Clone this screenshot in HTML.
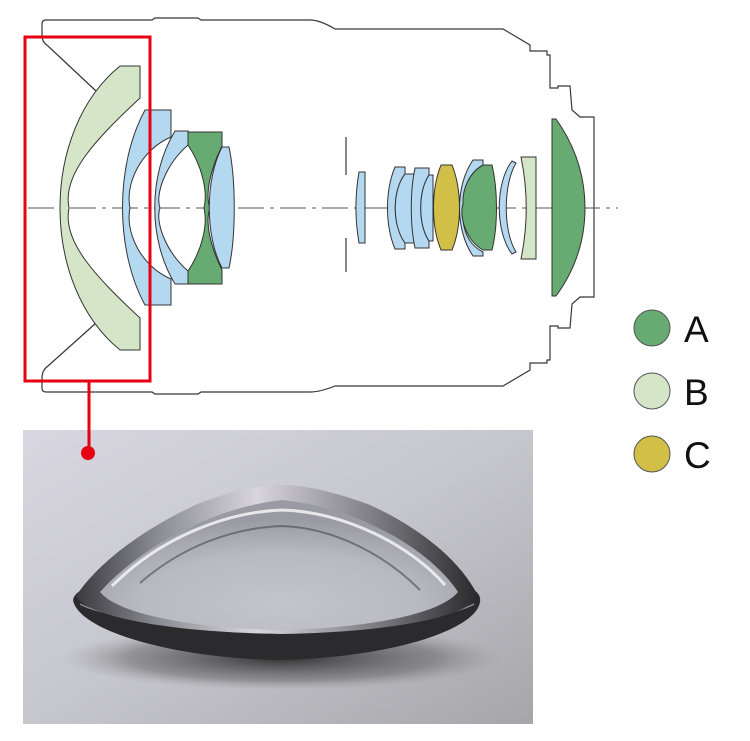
<!DOCTYPE html>
<html><head><meta charset="utf-8"><style>
html,body{margin:0;padding:0;background:#fff;width:750px;height:741px;overflow:hidden}
svg{display:block}
</style></head><body>
<svg width="750" height="741" viewBox="0 0 750 741" xmlns="http://www.w3.org/2000/svg">
<defs>
<linearGradient id="bg" x1="0" y1="0" x2="1" y2="1">
<stop offset="0" stop-color="#d8d7e1"/><stop offset="0.5" stop-color="#c6c6cd"/><stop offset="1" stop-color="#a6a6aa"/>
</linearGradient>
<radialGradient id="dome" cx="0.5" cy="0.8" r="0.65">
<stop offset="0" stop-color="#c4c4cb"/><stop offset="0.6" stop-color="#b9b9c1"/><stop offset="1" stop-color="#9a9aa2"/>
</radialGradient>
<linearGradient id="outer" x1="0" y1="0" x2="1" y2="0">
<stop offset="0" stop-color="#3a3a3e"/><stop offset="0.2" stop-color="#8a8a92"/><stop offset="0.45" stop-color="#d8d6dc"/><stop offset="0.75" stop-color="#7a7a80"/><stop offset="1" stop-color="#2a2a2c"/>
</linearGradient>
<radialGradient id="shadow" cx="0.5" cy="0.5" r="0.5">
<stop offset="0" stop-color="#222" stop-opacity="0.9"/><stop offset="0.7" stop-color="#555" stop-opacity="0.45"/><stop offset="1" stop-color="#888" stop-opacity="0"/>
</radialGradient>
</defs>

<g fill="none" stroke="#3a3535" stroke-width="1.2">
<path d="M42,36 L42,24 Q42,20 46,20 L152,20 L155,18 L198,18 L201,20 L310,20 Q320,20 335,29 L503,29 L530,45 L530,51 L547,51 L547,55 L550,55 L550,88 L558,88 L558,86 L570,86 L572,110 L580,117 L594,117 L594,297 L580,297 L572,304 L570,328 L558,328 L558,326 L550,326 L550,360 L547,360 L547,363 L530,363 L530,370 L503,386 L335,386 Q320,392 310,392 L201,392 L198,394 L155,394 L152,392 L46,392 Q42,392 42,388 L42,378"/>
<path d="M42,36 Q42,42 48,46 L96,91"/>
<path d="M42,378 Q42,370 48,366 L96,323"/>
<path d="M346,137 L346,175 M346,238 L346,272"/>
</g>

<line x1="28" y1="208" x2="618" y2="208" stroke="#555" stroke-width="1.1" stroke-dasharray="26,6,4,6"/>

<g stroke="#333" stroke-width="1">
<path d="M120,66 L140,66 L140,98 C95,140 62,175 69,208 C62,241 95,276 140,318 L140,350 L120,350 C40,285 40,131 120,66 Z" fill="#d5e5c8"/>
<path d="M145,110 L171,110 L171,137 C140,150 125,185 130,208 C125,231 140,266 171,279 L171,305 L145,305 C115,250 115,165 145,110 Z" fill="#b3d8f0"/>
<path d="M175,131 L188,131 L188,145 C165,165 155,195 160,208 C155,221 165,251 188,271 L188,284 L175,284 C148,240 148,175 175,131 Z" fill="#b3d8f0"/>
<path d="M188,132 L222,132 L222,146 C210,170 205,195 210,208 C205,221 210,246 222,270 L222,284 L188,284 L188,271 C202,250 208,225 204,208 C208,191 202,166 188,145 Z" fill="#67aa72"/>
<path d="M222,147 L229,147 C236,180 236,236 229,268 L222,268 C205,236 205,180 222,147 Z" fill="#b3d8f0"/>

<path d="M359,172 L365,172 L365,243 L359,243 C355,220 355,195 359,172 Z" fill="#b3d8f0"/>
<path d="M395,167 L405,167 L405,175 C392,190 392,226 405,241 L405,249 L395,249 C385,225 385,191 395,167 Z" fill="#b3d8f0"/>
<path d="M405,174 L414,174 L414,243 L405,243 C392,226 392,190 405,174 Z" fill="#b3d8f0"/>
<path d="M415,168 L429,168 L429,175 C418,192 418,224 429,241 L429,248 L415,248 C410,225 410,191 415,168 Z" fill="#b3d8f0"/>
<path d="M429,175 L433,175 L433,241 L429,241 C418,224 418,192 429,175 Z" fill="#b3d8f0"/>
<path d="M441,165 L452,165 C462,190 462,226 452,250 L441,250 C431,226 431,190 441,165 Z" fill="#d2bf47"/>
<path d="M473,160 L483,160 L483,166 C465,180 460,210 463,220 C465,240 475,248 483,252 L483,256 L473,256 C455,230 455,186 473,160 Z" fill="#b3d8f0"/>
<path d="M483,165 L492,165 C498,190 498,226 492,250 L483,250 C462,238 460,210 463,205 C462,188 470,172 483,165 Z" fill="#67aa72"/>
<path d="M512,161 L516,163 C503,185 503,231 516,252 L512,254 C495,232 495,183 512,161 Z" fill="#b3d8f0"/>
<path d="M521,157 L536,157 L536,259 L521,259 C528,225 528,191 521,157 Z" fill="#d5e5c8"/>
<path d="M552,119 L556,119 C578,150 585,180 585,208 C585,236 578,266 556,296 L552,296 Z" fill="#67aa72"/>
</g>

<!-- photo -->
<rect x="23" y="430" width="510" height="294" fill="url(#bg)"/>
<ellipse cx="282" cy="658" rx="220" ry="32" fill="url(#shadow)"/>
<!-- base dark band -->
<path d="M73,600 C75,590 90,585 110,583 L450,583 C470,585 482,592 480,602 C476,630 390,658 278,660 C170,658 78,630 73,600 Z" fill="#2b2b2e"/>
<path d="M80,604 C130,632 420,634 474,604" fill="none" stroke="#8a8a90" stroke-width="1.5"/>
<!-- outer dome -->
<path d="M76,596 C100,560 150,525 200,503 C240,488 265,485 282,485 C300,485 330,490 370,505 C420,528 460,560 478,596 C470,615 400,632 280,634 C160,632 85,615 76,596 Z" fill="url(#outer)"/>
<!-- inner dome (seen through) -->
<path d="M100,592 C140,548 210,508 282,500 C360,508 430,550 458,592 C440,614 370,628 280,630 C190,628 118,614 100,592 Z" fill="url(#dome)"/>
<path d="M112,586 C160,538 225,512 282,510 C345,512 410,545 445,585" fill="none" stroke="#f4f3f6" stroke-width="3" opacity="0.85"/>
<path d="M140,583 C180,548 230,528 282,526 C335,528 385,555 420,590" fill="none" stroke="#4a4a50" stroke-width="2" opacity="0.6"/>

<rect x="25" y="37" width="125" height="344" fill="none" stroke="#e60012" stroke-width="3"/>
<line x1="89" y1="381" x2="89" y2="452" stroke="#e60012" stroke-width="3"/>
<circle cx="88" cy="453" r="7" fill="#e60012"/>

<circle cx="652" cy="328" r="18" fill="#67aa72" stroke="#555" stroke-width="1"/>
<circle cx="652" cy="391" r="18" fill="#d5e5c8" stroke="#555" stroke-width="1"/>
<circle cx="652" cy="454" r="18" fill="#d2bf47" stroke="#555" stroke-width="1"/>
<g font-family="Liberation Sans, sans-serif" font-size="37" fill="#111">
<text x="684" y="342">A</text>
<text x="684" y="405">B</text>
<text x="684" y="468">C</text>
</g>
</svg>
</body></html>
